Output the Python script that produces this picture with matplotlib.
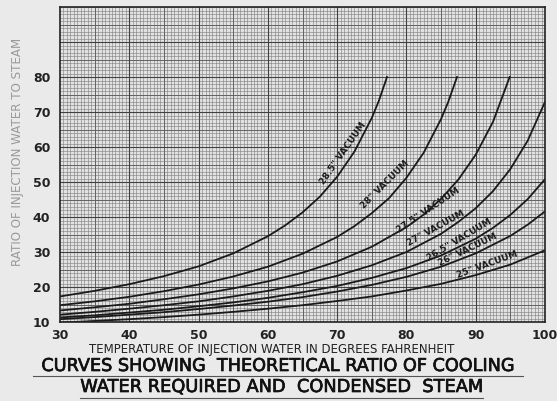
import numpy as np
import matplotlib.pyplot as plt
import matplotlib.patheffects as pe
from matplotlib.lines import Line2D

# ratio of injection water to steam vs injection water temperature (deg F)
vac_285_t = [30, 35, 40, 45, 50, 55, 60, 62.5, 65, 67.5, 70, 72.5, 75, 76, 77.2]
vac_285 = [17.3, 18.9, 20.8, 23.1, 25.9, 29.6, 34.5, 37.6, 41.3, 45.8, 51.5, 58.7, 68.3, 73.1, 80.0]
vac_28_t = [30, 35, 40, 45, 50, 55, 60, 65, 70, 72.5, 75, 77.5, 80, 82.5, 85, 86, 87.3]
vac_28 = [14.8, 15.9, 17.2, 18.8, 20.7, 23.0, 25.8, 29.5, 34.3, 37.4, 41.1, 45.4, 51.2, 58.4, 68.0, 72.7, 80.0]
vac_275_t = [30, 35, 40, 45, 50, 55, 60, 65, 70, 75, 80, 82.5, 85, 87.5, 90, 92.5, 94.9]
vac_275 = [13.3, 14.2, 15.2, 16.5, 17.9, 19.6, 21.6, 24.1, 27.3, 31.5, 37.1, 40.7, 45.2, 50.7, 57.8, 67.2, 80.0]
vac_27_t = [30, 35, 40, 45, 50, 55, 60, 65, 70, 75, 80, 85, 87.5, 90, 92.5, 95, 97.5, 100]
vac_27 = [12.1, 12.9, 13.8, 14.8, 15.9, 17.3, 18.9, 20.8, 23.2, 26.2, 30.0, 35.2, 38.6, 42.5, 47.4, 53.7, 61.8, 72.9]
vac_265_t = [30, 35, 40, 45, 50, 55, 60, 65, 70, 75, 80, 85, 90, 92.5, 95, 97.5, 100]
vac_265 = [11.3, 11.9, 12.7, 13.5, 14.5, 15.6, 16.9, 18.5, 20.3, 22.6, 25.4, 29.0, 33.8, 36.9, 40.6, 45.1, 50.8]
vac_26_t = [30, 35, 40, 45, 50, 55, 60, 65, 70, 75, 80, 85, 90, 95, 97.5, 100]
vac_26 = [10.8, 11.4, 12.1, 12.8, 13.7, 14.7, 15.8, 17.1, 18.7, 20.6, 22.9, 25.8, 29.6, 34.6, 37.8, 41.6]
vac_25_t = [30, 35, 40, 45, 50, 55, 60, 65, 70, 75, 80, 85, 90, 95, 100]
vac_25 = [9.8, 10.3, 10.8, 11.4, 12.1, 12.9, 13.8, 14.8, 16.0, 17.3, 19.0, 20.9, 23.4, 26.4, 30.5]

curve_labels = ['28.5" VACUUM', '28" VACUUM', '27.5" VACUUM', '27" VACUUM',
                '26.5" VACUUM', '26" VACUUM', '25" VACUUM']
label_pos = [(70.8, 58.3), (76.9, 49.4), (83.1, 42.0), (84.3, 36.9),
             (87.7, 33.4), (88.9, 30.6), (91.6, 26.3)]
label_rot = [55, 45, 34, 29, 31, 26, 20]

x_ticks = [30, 40, 50, 60, 70, 80, 90, 100]
y_ticks = [10, 20, 30, 40, 50, 60, 70, 80]

fig = plt.figure(figsize=(5.57, 4.01), dpi=100)
fig.patch.set_facecolor('#eaeaea')
ax = fig.add_axes([60 / 557, 1 - 322 / 401, 485 / 557, 315 / 401])
ax.set_facecolor('#e2e2e2')
ax.set_xlim(30, 100)
ax.set_ylim(10, 100)

# graph paper grid
ax.set_xticks(np.arange(30, 100.01, 0.5), minor=True)
ax.set_yticks(np.arange(10, 100.01, 1), minor=True)
ax.grid(which='minor', color='#7c7c7c', lw=0.4)
for v in np.arange(35, 100, 10):
    ax.axvline(v, color='#5a5a5a', lw=0.6)
for v in np.arange(15, 100, 10):
    ax.axhline(v, color='#5a5a5a', lw=0.6)
for v in np.arange(40, 100, 10):
    ax.axvline(v, color='#404040', lw=0.8)
for v in np.arange(20, 100, 10):
    ax.axhline(v, color='#404040', lw=0.8)

ax.set_xticks(x_ticks)
ax.set_yticks(y_ticks)
ax.tick_params(which='both', length=0)
ax.tick_params(axis='x', pad=5)
ax.tick_params(axis='y', pad=7)
for lab in ax.get_xticklabels() + ax.get_yticklabels():
    lab.set_fontsize(9)
    lab.set_fontweight('bold')
    lab.set_color('#222222')
for s in ax.spines.values():
    s.set_linewidth(1.2)
    s.set_color('#222222')

series = [(vac_285_t, vac_285), (vac_28_t, vac_28), (vac_275_t, vac_275),
          (vac_27_t, vac_27), (vac_265_t, vac_265), (vac_26_t, vac_26), (vac_25_t, vac_25)]
for (xs, ys) in series:
    ax.plot(xs, ys, color='#1a1a1a', lw=1.3)

for txt, (lx, ly), rot in zip(curve_labels, label_pos, label_rot):
    ax.text(lx, ly, txt, rotation=rot, rotation_mode='anchor', ha='center', va='center',
            fontsize=6.5, fontweight='bold', color='#1a1a1a')

thick = [pe.withStroke(linewidth=0.5, foreground='#111111')]
fig.text(0.032, 0.62, 'RATIO OF INJECTION WATER TO STEAM', rotation=90,
         ha='center', va='center', fontsize=8.6, color='#9a9a9a')
fig.text(272 / 557, 1 - 350 / 401, 'TEMPERATURE OF INJECTION WATER IN DEGREES FAHRENHEIT',
         ha='center', va='center', fontsize=8.5, color='#222222')
fig.text(278 / 557, 1 - 366 / 401, 'CURVES SHOWING  THEORETICAL RATIO OF COOLING',
         ha='center', va='center', fontsize=12.7, color='#111111', path_effects=thick)
fig.text(281 / 557, 1 - 387 / 401, 'WATER REQUIRED AND  CONDENSED  STEAM',
         ha='center', va='center', fontsize=12.8, color='#111111', path_effects=thick)
fig.add_artist(Line2D([33 / 557, 523 / 557], [1 - 376 / 401, 1 - 376 / 401], color='#555555', lw=0.8))
fig.add_artist(Line2D([80 / 557, 483 / 557], [1 - 398 / 401, 1 - 398 / 401], color='#555555', lw=0.8))

fig.savefig('out.png', dpi=100, facecolor=fig.get_facecolor())
